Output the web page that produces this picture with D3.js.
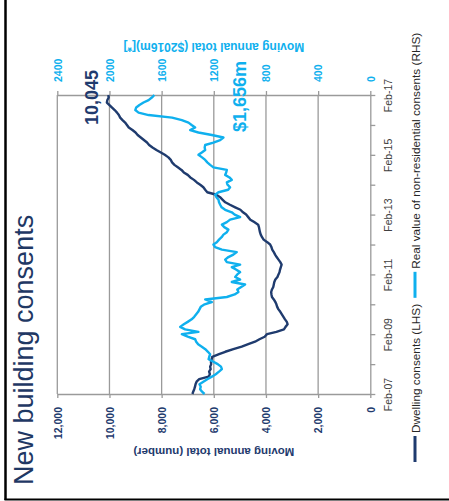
<!DOCTYPE html>
<html>
<head>
<meta charset="utf-8">
<script src="https://cdn.jsdelivr.net/npm/d3@7"></script>
<style>
  html, body { margin: 0; padding: 0; background: #fff; }
  svg { display: block; font-family: "Liberation Sans", Arial, sans-serif; }
</style>
</head>
<body>
<svg id="chart" width="449" height="501"></svg>
<script>
// Monthly moving annual totals, Feb 2007 to Feb 2017
const startMonth = new Date(2007, 1, 1);
const endMonth = new Date(2017, 1, 1);

// Dwelling consents, moving annual total (number), left axis
const dwellings = [
  6820, 6790, 6750, 6720, 6700, 6660, 6560, 6200, 6150, 6180,
  6120, 6140, 6100, 6110, 6080, 6060, 5800, 5560, 5250, 4930,
  4680, 4420, 4250, 4050, 3960, 3600, 3310, 3250, 3170, 3200,
  3270, 3330, 3390, 3450, 3520, 3570, 3600, 3640, 3700, 3770,
  3790, 3800, 3770, 3720, 3700, 3680, 3640, 3560, 3520, 3480,
  3460, 3430, 3400, 3450, 3520, 3590, 3650, 3700, 3760, 3790,
  3840, 3950, 4090, 4150, 4200, 4230, 4250, 4270, 4300, 4450,
  4600, 4680, 4760, 4880, 4980, 5180, 5380, 5560, 5660, 5760,
  5900, 6250, 6330, 6400, 6520, 6650, 6760, 6900, 7000, 7150,
  7240, 7380, 7510, 7600, 7650, 7740, 7880, 8030, 8200, 8350,
  8480, 8560, 8680, 8800, 8920, 9000, 9120, 9260, 9330, 9400,
  9500, 9590, 9640, 9710, 9800, 9900, 10000, 10100, 10080, 10030,
  10045
];

// Real value of non-residential consents, moving annual total ($2016m), right axis
const nonResidential = [
  1271, 1290, 1305, 1300, 1310, 1280, 1250, 1215, 1185, 1160,
  1138, 1145, 1170, 1203, 1240, 1235, 1228, 1245, 1265, 1292,
  1320, 1335, 1343, 1400, 1445, 1318, 1420, 1458, 1430, 1400,
  1370, 1350, 1335, 1320, 1310, 1300, 1270, 1215, 1266, 1100,
  1040, 1011, 1020, 990, 960, 1062, 998, 1036, 1020, 998,
  1030, 1062, 998, 1100, 1113, 1088, 1050, 1024, 1138, 1190,
  1203, 1177, 1160, 1140, 1126, 1100, 1088, 1120, 1138, 1100,
  1075, 998, 1040, 1062, 1113, 1140, 1151, 1160, 1164, 1180,
  1190, 1164, 1090, 1075, 1095, 1100, 1062, 1080, 1113, 1105,
  1100, 1203, 1228, 1250, 1266, 1290, 1318, 1292, 1266, 1270,
  1266, 1203, 1151, 1126, 1215, 1318, 1381, 1343, 1370, 1394,
  1445, 1520, 1700, 1777, 1802, 1795, 1770, 1739, 1700, 1675,
  1656
];

const leftTicks = [0, 2000, 4000, 6000, 8000, 10000, 12000];
const rightTicks = [0, 400, 800, 1200, 1600, 2000, 2400];
const tickYears = [2007, 2008, 2009, 2010, 2011, 2012, 2013, 2014, 2015, 2016, 2017];
const labelledYears = [2007, 2009, 2011, 2013, 2015, 2017];
const latestDwellingsLabel = "10,045";
const latestNonResLabel = "$1,656m";

const navy = "#1f3b6e";
const cyan = "#0fb0ee";
const gridGrey = "#9a9a9a";

const svg = d3.select("#chart");

// The chart is laid out on its side: time runs bottom-to-top,
// values run right-to-left.
const plot = { left: 57.3, right: 370.3, top: 95, bottom: 394 };

const xL = d3.scaleLinear().domain([0, 12000]).range([plot.right, plot.left]);
const xR = d3.scaleLinear().domain([0, 2400]).range([plot.right, plot.left]);
const yT = d3.scaleTime().domain([startMonth, endMonth]).range([plot.bottom, plot.top]);

const months = dwellings.map((_, i) => new Date(2007, 1 + i, 1));

// Outer frame
svg.append("line").attr("x1", 5.5).attr("x2", 5.5).attr("y1", 0).attr("y2", 500)
  .attr("stroke", "#000").attr("stroke-width", 2.5);
svg.append("line").attr("x1", 4.5).attr("x2", 449).attr("y1", 499.5).attr("y2", 499.5)
  .attr("stroke", "#000").attr("stroke-width", 2);

// Title
svg.append("text")
  .attr("transform", "translate(33,485) rotate(-90)")
  .attr("font-size", 27)
  .attr("fill", "#1f3864")
  .text("New building consents");

// Gridlines
svg.append("g").selectAll("line")
  .data(leftTicks.filter(d => d > 0))
  .join("line")
  .attr("x1", d => xL(d)).attr("x2", d => xL(d))
  .attr("y1", plot.top).attr("y2", plot.bottom)
  .attr("stroke", gridGrey).attr("stroke-width", 1.3);

function styleAxis(g) {
  g.select(".domain").attr("stroke", gridGrey).attr("stroke-width", 1.3);
  g.selectAll(".tick line").attr("stroke", gridGrey).attr("stroke-width", 1.3);
}

// Left-hand value axis (drawn along the bottom)
const axL = svg.append("g")
  .attr("transform", `translate(0,${plot.bottom})`)
  .call(d3.axisBottom(xL).tickValues(leftTicks).tickSize(4).tickSizeOuter(0)
    .tickFormat(d3.format(",")));
styleAxis(axL);
axL.selectAll(".tick text")
  .attr("transform", "rotate(-90)")
  .attr("x", -13).attr("y", 0).attr("dy", "0.36em")
  .attr("text-anchor", "end")
  .attr("font-size", 10.5).attr("font-weight", "bold")
  .attr("font-family", "Liberation Sans, Arial, sans-serif")
  .attr("fill", navy);

// Right-hand value axis (drawn along the top)
const axR = svg.append("g")
  .attr("transform", `translate(0,${plot.top})`)
  .call(d3.axisTop(xR).tickValues(rightTicks).tickSize(4).tickSizeOuter(0)
    .tickFormat(d3.format("d")));
styleAxis(axR);
axR.selectAll(".tick text")
  .attr("transform", "rotate(-90)")
  .attr("x", 13).attr("y", 0).attr("dy", "0.36em")
  .attr("text-anchor", "start")
  .attr("font-size", 10.5).attr("font-weight", "bold")
  .attr("font-family", "Liberation Sans, Arial, sans-serif")
  .attr("fill", cyan);

// Time axis (drawn on the right), a tick every February
const yearTicks = tickYears.map(y => new Date(y, 1, 1));
const axT = svg.append("g")
  .attr("transform", `translate(${plot.right},0)`)
  .call(d3.axisRight(yT).tickValues(yearTicks).tickSize(5).tickSizeOuter(0)
    .tickFormat(d => labelledYears.includes(d.getFullYear()) ? d3.timeFormat("%b-%y")(d) : ""));
styleAxis(axT);
axT.selectAll(".tick text")
  .attr("transform", "rotate(-90)")
  .attr("x", 0).attr("y", 21.5).attr("dy", 0)
  .attr("text-anchor", "middle")
  .attr("font-size", 10.5)
  .attr("font-family", "Liberation Sans, Arial, sans-serif")
  .attr("fill", "#404040");

// Axis titles (upside down, as the chart is turned)
svg.append("text")
  .attr("transform", `translate(${(plot.left + plot.right) / 2},448) rotate(180)`)
  .attr("text-anchor", "middle")
  .attr("font-size", 11.5).attr("font-weight", "bold")
  .attr("fill", navy)
  .text("Moving annual total (number)");

svg.append("text")
  .attr("transform", `translate(${(plot.left + plot.right) / 2},42.5) rotate(180)`)
  .attr("text-anchor", "middle")
  .attr("font-size", 12).attr("font-weight", "bold")
  .attr("fill", cyan)
  .text("Moving annual total ($2016m)[*]");

// Series lines
const dwellLine = d3.line()
  .x(d => xL(d)).y((d, i) => yT(months[i]));
const nonResLine = d3.line()
  .x(d => xR(d)).y((d, i) => yT(months[i]));

svg.append("path").datum(dwellings)
  .attr("d", dwellLine)
  .attr("fill", "none").attr("stroke", navy).attr("stroke-width", 2.4)
  .attr("stroke-linejoin", "round");

svg.append("path").datum(nonResidential)
  .attr("d", nonResLine)
  .attr("fill", "none").attr("stroke", cyan).attr("stroke-width", 2.4)
  .attr("stroke-linejoin", "round");

// Latest-value labels
svg.append("text")
  .attr("transform", "translate(98,125) rotate(-90)")
  .attr("font-size", 18).attr("font-weight", "bold")
  .attr("fill", navy)
  .text(latestDwellingsLabel);

svg.append("text")
  .attr("transform", "translate(246,132) rotate(-90)")
  .attr("font-size", 18).attr("font-weight", "bold")
  .attr("fill", cyan)
  .text(latestNonResLabel);

// Legend
const legendX = 415;
const legendFont = 11.8;
let ly = 462;
const legendItems = [
  { label: "Dwelling consents (LHS)", color: navy },
  { label: "Real value of non-residential consents (RHS)", color: cyan }
];
legendItems.forEach(item => {
  svg.append("line")
    .attr("x1", legendX).attr("x2", legendX)
    .attr("y1", ly).attr("y2", ly - 26)
    .attr("stroke", item.color).attr("stroke-width", 3);
  const t = svg.append("text")
    .attr("transform", `translate(${legendX + 4.5},${ly - 29}) rotate(-90)`)
    .attr("font-size", legendFont)
    .attr("fill", "#262626")
    .text(item.label);
  ly = ly - 29 - t.node().getComputedTextLength() - 6;
});
</script>
</body>
</html>
